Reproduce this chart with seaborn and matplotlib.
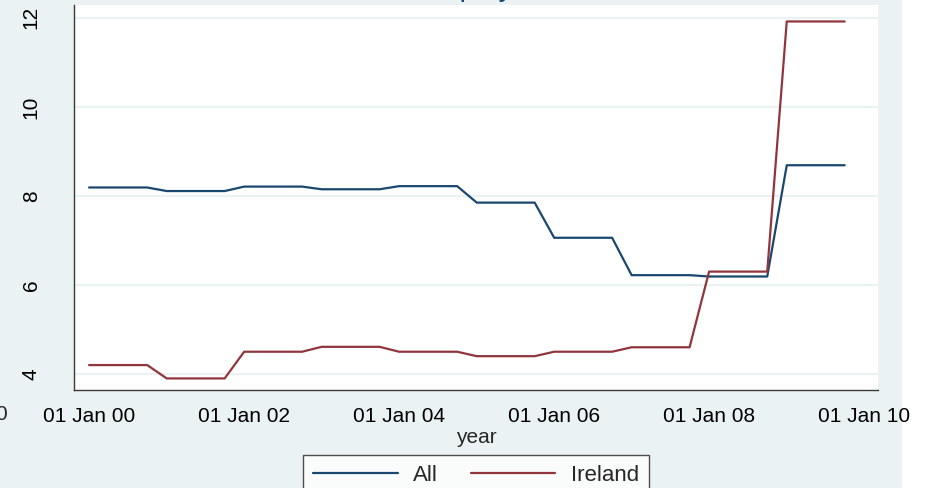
import pandas as pd
import matplotlib
matplotlib.use('Agg')
import matplotlib.pyplot as plt
import matplotlib.dates as mdates
from matplotlib.patches import Rectangle
import seaborn as sns

# quarterly observations, Jan 2000 .. Oct 2009
quarters = pd.date_range('2000-01-01', periods=40, freq='QS')
all_rate = [8.19, 8.19, 8.19, 8.19, 8.11, 8.11, 8.11, 8.11,
            8.21, 8.21, 8.21, 8.21, 8.15, 8.15, 8.15, 8.15,
            8.22, 8.22, 8.22, 8.22, 7.85, 7.85, 7.85, 7.85,
            7.06, 7.06, 7.06, 7.06, 6.22, 6.22, 6.22, 6.22,
            6.19, 6.19, 6.19, 6.19, 8.69, 8.69, 8.69, 8.69]
ireland_rate = [4.2, 4.2, 4.2, 4.2, 3.9, 3.9, 3.9, 3.9,
                4.5, 4.5, 4.5, 4.5, 4.61, 4.61, 4.61, 4.61,
                4.5, 4.5, 4.5, 4.5, 4.4, 4.4, 4.4, 4.4,
                4.5, 4.5, 4.5, 4.5, 4.6, 4.6, 4.6, 4.6,
                6.3, 6.3, 6.3, 6.3, 11.92, 11.92, 11.92, 11.92]
series_names = ['All', 'Ireland']
xtick_years = [2000, 2002, 2004, 2006, 2008, 2010]
yticks = [4, 6, 8, 10, 12]

df = pd.concat([
    pd.DataFrame({'year': quarters, 'rate': all_rate, 'group': series_names[0]}),
    pd.DataFrame({'year': quarters, 'rate': ireland_rate, 'group': series_names[1]}),
])

sns.set_style('white')
plt.rcParams['font.family'] = ['Liberation Sans', 'DejaVu Sans']

bg = '#EAF2F3'
fs = 15
fig = plt.figure(figsize=(9.32, 4.88), dpi=100, facecolor='white')
fig.patches.append(Rectangle((0, 0), 902 / 932, 1, transform=fig.transFigure,
                             facecolor=bg, edgecolor='none', zorder=-10))
ax = fig.add_axes([74 / 932, 1 - 390 / 488, 804 / 932, 385 / 488])
ax.set_facecolor('white')

for y in yticks:
    ax.axhline(y, color=bg, lw=1.6, zorder=0)

sns.lineplot(data=df, x='year', y='rate', hue='group', ax=ax,
             palette=['#1A476F', '#90353B'], linewidth=1.6, legend=False)

ax.set_xlim(pd.Timestamp('1999-10-22'), pd.Timestamp('2010-03-07'))
ax.set_ylim(3.64, 12.29)
ax.set_xticks([pd.Timestamp(f'{y}-01-01') for y in xtick_years])
ax.xaxis.set_major_formatter(mdates.DateFormatter('%d %b %y'))
ax.set_yticks(yticks)
ax.set_yticklabels([str(v) for v in yticks], rotation=90, va='center')

for s in ['top', 'right']:
    ax.spines[s].set_visible(False)
for s in ['left', 'bottom']:
    ax.spines[s].set_color('#3a3a3a')
    ax.spines[s].set_linewidth(1.0)
ax.tick_params(axis='both', colors='#555555', labelcolor='black',
               labelsize=fs, length=9, width=1.0, direction='out')
ax.tick_params(axis='y', pad=15)
ax.tick_params(axis='x', pad=3.5)
ax.grid(False)

ax.set_xlabel('year', fontsize=fs, labelpad=1)
ax.set_ylabel('')

handles = [plt.Line2D([], [], color='#1A476F', lw=1.6),
           plt.Line2D([], [], color='#90353B', lw=1.6)]
leg = fig.legend(handles, series_names, loc='upper center',
                 bbox_to_anchor=(476 / 932, 1 - 455 / 488), ncol=2,
                 fontsize=16, frameon=True, fancybox=False,
                 handlelength=3.8, handletextpad=0.68, columnspacing=1.5,
                 borderpad=0.45, borderaxespad=0)
leg.get_frame().set_edgecolor('#222222')
leg.get_frame().set_linewidth(1.0)
leg.get_frame().set_facecolor('white')

# title and neighbouring label sit mostly outside the crop
fig.text(481 / 932, 1 + 4 / 488, 'Unemployment', ha='center', va='baseline',
         fontsize=21, color='#1A476F')
fig.text(7 / 932, 1 - 415 / 488, '0', ha='right', va='center', fontsize=fs)

fig.savefig('out.png', dpi=100, facecolor=fig.get_facecolor())
